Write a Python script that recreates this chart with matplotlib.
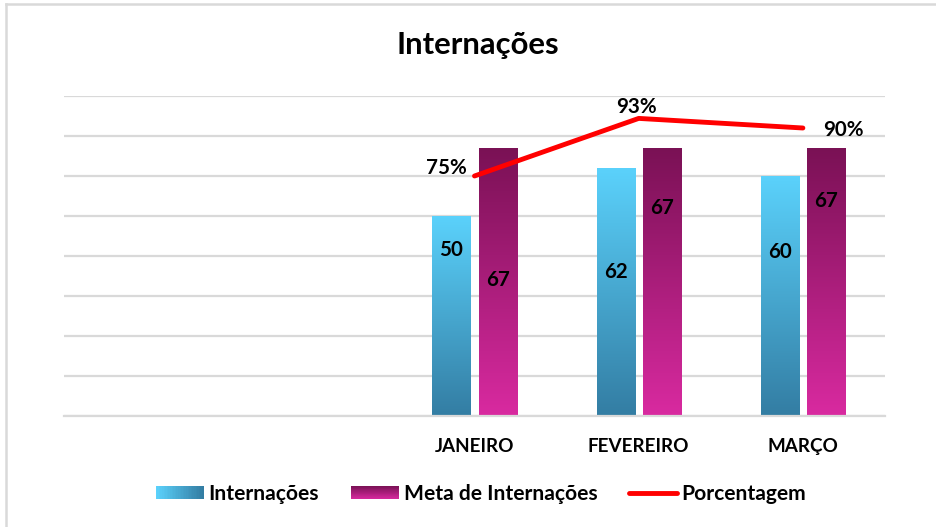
import numpy as np
import matplotlib
matplotlib.use("Agg")
import matplotlib.pyplot as plt
from matplotlib.patches import Rectangle
from matplotlib.lines import Line2D
from matplotlib.legend_handler import HandlerBase
from matplotlib.colors import LinearSegmentedColormap

plt.rcParams['font.family'] = ['Lato', 'DejaVu Sans']

# ---- data ----
categories = ["", "", "JANEIRO", "FEVEREIRO", "MARÇO"]
internacoes = [np.nan, np.nan, 50, 62, 60]
meta = [np.nan, np.nan, 67, 67, 67]
porcentagem = [np.nan, np.nan, 0.75, 0.93, 0.90]
pct_labels = ["", "", "75%", "93%", "90%"]
title = "Internações"
series_names = ["Internações", "Meta de Internações", "Porcentagem"]

# ---- styling ----
W, H = 937, 527
fig = plt.figure(figsize=(W / 100, H / 100), dpi=100)
ax = fig.add_axes([64 / W, 1 - 416 / H, (885 - 64) / W, (416 - 96) / H])

cyan_top, cyan_bot = "#5BD2FC", "#337DA3"
mag_top, mag_bot = "#7A1155", "#D92AA0"
cmap_int = LinearSegmentedColormap.from_list("int", [cyan_bot, cyan_top])
cmap_meta = LinearSegmentedColormap.from_list("meta", [mag_bot, mag_top])

x = np.arange(len(categories))
bw = 0.232
off = 0.141
LBL = 14.8

bars_i = ax.bar(x - off, internacoes, bw, color="none", edgecolor="none", zorder=2)
bars_m = ax.bar(x + off, meta, bw, color="none", edgecolor="none", zorder=2)

grad = np.linspace(0, 1, 256).reshape(-1, 1)
for bars, cmap in ((bars_i, cmap_int), (bars_m, cmap_meta)):
    for b in bars:
        h = b.get_height()
        if not np.isfinite(h):
            continue
        x0 = b.get_x()
        im = ax.imshow(grad, cmap=cmap, origin="lower", aspect="auto",
                       extent=[x0, x0 + b.get_width(), 0, h], zorder=2,
                       interpolation="bilinear")
        im.set_clip_path(b)
ax.set_xlim(-0.5, len(categories) - 0.5)
ax.set_ylim(0, 80)

# grid
ax.set_yticks(np.arange(0, 81, 10))
ax.yaxis.grid(True, color="#D9D9D9", linewidth=1.6, zorder=0)
ax.set_axisbelow(True)
ax.set_xticks(x)
ax.set_xticklabels(categories, fontsize=13.6, fontweight="bold")
for s in ("top", "right", "left"):
    ax.spines[s].set_visible(False)
ax.spines["bottom"].set_color("#D9D9D9")
ax.spines["bottom"].set_linewidth(1.6)

# bar value labels (placed inside bars)
lab_y_i = [None, None, 41.5, 36, 41]
lab_y_m = [None, None, 34, 52, 53.8]
for i in range(len(categories)):
    if np.isfinite(internacoes[i]):
        ax.text(x[i] - off, lab_y_i[i], f"{internacoes[i]:g}", ha="center", va="center",
                fontsize=LBL, fontweight="bold", color="black", zorder=4)
    if np.isfinite(meta[i]):
        ax.text(x[i] + off, lab_y_m[i], f"{meta[i]:g}", ha="center", va="center",
                fontsize=LBL, fontweight="bold", color="black", zorder=4)

# percentage line on secondary axis
ax2 = ax.twinx()
ax2.set_ylim(0, 1)
ax2.axis("off")
ax2.plot(x, porcentagem, color="#FF0000", linewidth=3.5, solid_capstyle="round",
         solid_joinstyle="round", zorder=5)
pct_off = {2: (-28, 8.5), 3: (-2, 11), 4: (40, -2)}
for i, lab in enumerate(pct_labels):
    if lab:
        dx, dy = pct_off[i]
        ax2.annotate(lab, (x[i], porcentagem[i]), xytext=(dx, dy), textcoords="offset pixels",
                     ha="center", va="center", fontsize=LBL, fontweight="bold", zorder=6)

ax.tick_params(axis="y", left=False, right=False, labelleft=False, labelright=False)
ax.tick_params(axis="x", bottom=False, length=0, pad=16)

# title
fig.text(478 / W, 1 - 45 / H, title, ha="center", va="center", fontsize=22.3, fontweight="bold")


# legend with gradient patches
class GradHandler(HandlerBase):
    def __init__(self, cmap, horizontal):
        super().__init__()
        self.cmap = cmap
        self.horizontal = horizontal

    def create_artists(self, legend, orig_handle, xdescent, ydescent, width, height, fontsize, trans):
        n = 30
        arts = []
        for k in range(n):
            if self.horizontal:
                r = Rectangle((-xdescent + width * k / n, -ydescent), width / n * 1.05, height,
                              facecolor=self.cmap(1 - k / (n - 1)), edgecolor="none", transform=trans)
            else:
                r = Rectangle((-xdescent, -ydescent + height * k / n), width, height / n * 1.05,
                              facecolor=self.cmap(k / (n - 1)), edgecolor="none", transform=trans)
            arts.append(r)
        return arts


h1 = Rectangle((0, 0), 1, 1)
h2 = Rectangle((0, 0), 1, 1)
h3 = Line2D([0], [0], color="#FF0000", linewidth=3.5, solid_capstyle="round")
leg = fig.legend([h1, h2, h3], series_names, loc="center", bbox_to_anchor=(481 / W, 1 - 494 / H),
                 ncol=3, frameon=False, handlelength=2.29, handleheight=0.62, handletextpad=0.24,
                 columnspacing=1.5, borderpad=0, borderaxespad=0,
                 prop={"weight": "bold", "size": 15.1},
                 handler_map={h1: GradHandler(cmap_int, True), h2: GradHandler(cmap_meta, False)})

# chart border (left and top)
fig.add_artist(Line2D([6 / W, 6 / W], [0, 1 - 4 / H], color="#D9D9D9", linewidth=1.8))
fig.add_artist(Line2D([6 / W, 1], [1 - 4 / H, 1 - 4 / H], color="#D9D9D9", linewidth=1.8))

fig.savefig("out.png", dpi=100)
